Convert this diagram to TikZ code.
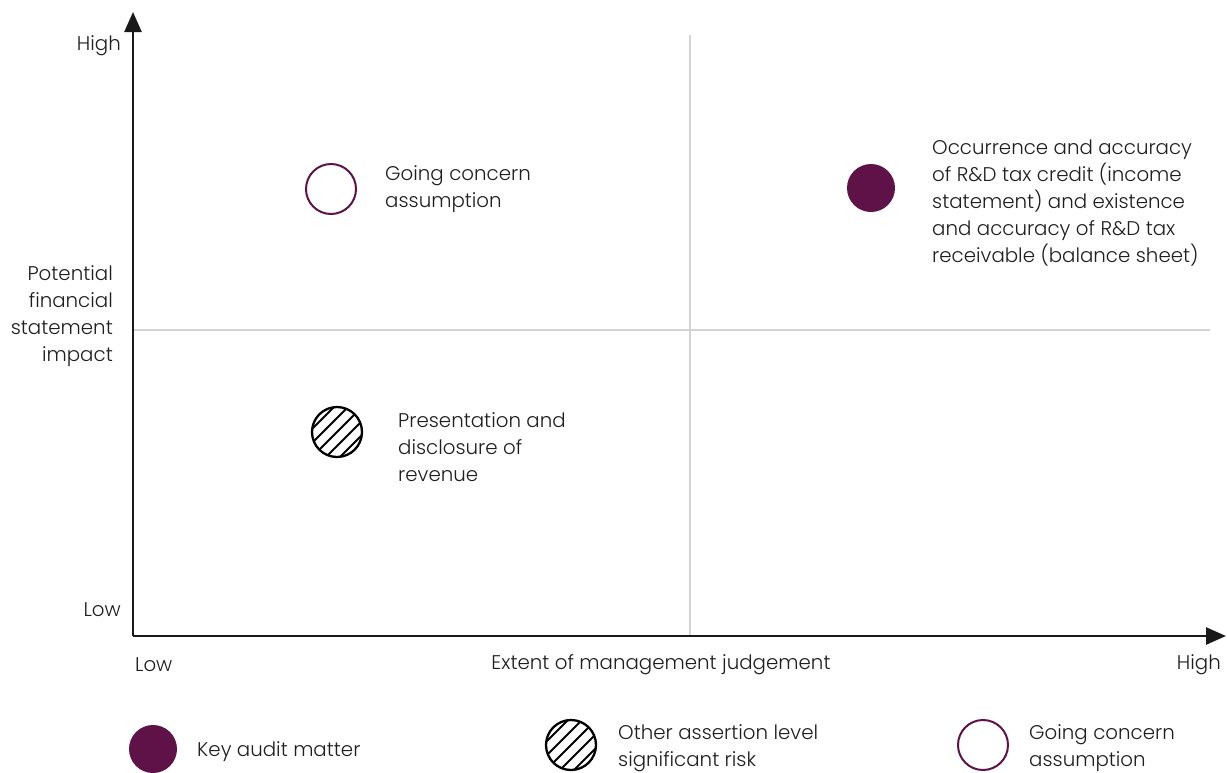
\documentclass[tikz,border=0pt]{standalone}
\usepackage{fontspec}
\setmainfont{Poppins}[UprightFont=* Light]
\usetikzlibrary{arrows.meta,calc}
\definecolor{plum}{HTML}{5E1248}
\definecolor{txt}{HTML}{1E1E1E}
\definecolor{gridc}{HTML}{D4D4D4}
\begin{document}
\begin{tikzpicture}[x=1pt,y=-1pt,
  lbl/.style={font=\fontsize{19.8}{27}\selectfont, text=txt, inner sep=0pt, align=left, yshift=-2.5pt},
  lblr/.style={lbl, align=right},
  axis/.style={line width=2.5pt, draw=black!90, -{Triangle[length=20pt,width=17pt]}},
  gridline/.style={line width=1.3pt, draw=gridc},
  kam/.style={circle, fill=plum, minimum size=48pt, inner sep=0pt},
  gca/.style={circle, draw=plum, line width=2pt, fill=white, minimum size=50pt, inner sep=0pt},
  hatchdisc/.style={circle, draw=black, line width=2.3pt, minimum size=50pt, inner sep=0pt,
    path picture={\foreach \i in {-5,...,5}{
      \draw[line width=2pt] ($(path picture bounding box.center)+(\i*14pt,0pt)+(-40pt,-40pt)$) -- ++(80pt,80pt);}}}
]
\useasboundingbox (0,0) rectangle (1227,772);
% grid lines
\coordinate (vt) at (690,35);
\coordinate (vb) at (690,636);
\coordinate (hl) at (133,330);
\coordinate (hr) at (1210,330);
\draw[gridline] (vt) -- (vb);
\draw[gridline] (hl) -- (hr);
% axes
\coordinate (o) at (133,636);
\coordinate (ytip) at (133,12);
\coordinate (xtip) at (1226,636);
\draw[axis] (o) -- (ytip);
\draw[axis] (o) -- (xtip);
% axis labels
\node[lblr, anchor=east] (yhigh) at (121,43) {High};
\node[lblr, anchor=east] (ylow) at (121,607) {Low};
\node[lblr, anchor=east] (ytitle) at (113,313.5) {Potential\\financial\\statement\\impact};
\node[lbl, anchor=west] (xlow) at (135,662) {Low};
\node[lbl] (xtitle) at (661,662) {Extent of management judgement};
\node[lblr, anchor=east] (xhigh) at (1221,662) {High};
% items
\node[gca] (gc) at (331,189) {};
\node[lbl, anchor=west] (gct) at (385,187) {Going concern\\assumption};
\node[kam] (rd) at (871,188) {};
\node[lbl, anchor=west] (rdt) at (932,201) {Occurrence and accuracy\\of R\&D tax credit (income\\statement) and existence\\and accuracy of R\&D tax\\receivable (balance sheet)};
\node[hatchdisc] (pr) at (337,432) {};
\node[lbl, anchor=west] (prt) at (398,445) {Presentation and\\disclosure of\\revenue};
% legend
\node[kam] (lk) at (153,749) {};
\node[lbl, anchor=west] (lkt) at (197,749) {Key audit matter};
\node[hatchdisc] (lh) at (571,745) {};
\node[lbl, anchor=west] (lht) at (618,745.5) {Other assertion level\\significant risk};
\node[gca] (lg) at (983,745) {};
\node[lbl, anchor=west] (lgt) at (1029,745.5) {Going concern\\assumption};
\end{tikzpicture}
\end{document}
